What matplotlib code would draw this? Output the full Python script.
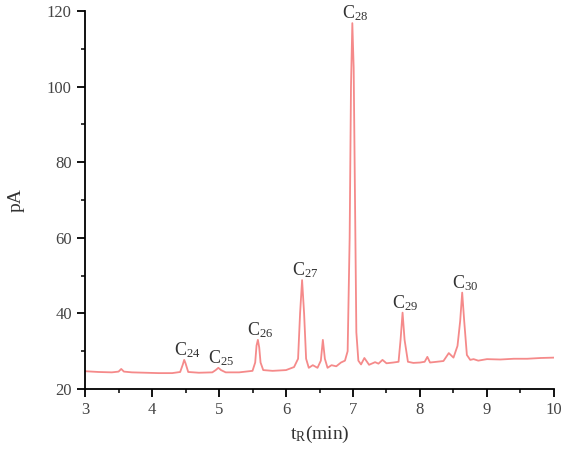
import numpy as np
import matplotlib
matplotlib.use("Agg")
from matplotlib import pyplot as plt
from matplotlib.ticker import MultipleLocator

# chromatogram: retention time (min) / signal (pA)
t_min = [3.00, 3.20, 3.40, 3.50, 3.54, 3.58, 3.70, 3.90, 4.10, 4.30,
         4.42, 4.46, 4.48, 4.50, 4.54, 4.70, 4.90, 4.95, 4.99, 5.03,
         5.10, 5.30, 5.50, 5.54, 5.56, 5.58, 5.60, 5.62, 5.66, 5.80,
         6.00, 6.12, 6.18, 6.21, 6.24, 6.27, 6.30, 6.34, 6.40, 6.47,
         6.52, 6.55, 6.58, 6.62, 6.68, 6.75, 6.82, 6.88, 6.92, 6.95,
         6.97, 6.99, 7.01, 7.03, 7.05, 7.08, 7.12, 7.17, 7.24, 7.33,
         7.38, 7.44, 7.50, 7.60, 7.68, 7.71, 7.74, 7.77, 7.82, 7.90,
         8.00, 8.07, 8.11, 8.15, 8.25, 8.35, 8.43, 8.50, 8.56, 8.60,
         8.63, 8.66, 8.70, 8.75, 8.80, 8.87, 9.00, 9.20, 9.40, 9.60,
         9.80, 10.00]
signal = [24.7, 24.5, 24.4, 24.6, 25.3, 24.6, 24.4, 24.3, 24.2, 24.2,
          24.5, 26.5, 27.7, 26.8, 24.5, 24.3, 24.4, 25.0, 25.6, 25.0,
          24.4, 24.4, 24.8, 27.0, 31.5, 33.0, 31.0, 27.0, 25.0, 24.8,
          25.0, 25.8, 28.0, 40.0, 48.8, 40.0, 28.0, 25.6, 26.3, 25.6,
          27.5, 33.0, 28.0, 25.6, 26.3, 26.0, 27.0, 27.5, 30.0, 60.0,
          100.0, 116.8, 105.0, 70.0, 35.0, 27.5, 26.5, 28.2, 26.4, 27.1,
          26.7, 27.7, 26.8, 27.0, 27.2, 33.0, 40.2, 33.0, 27.2, 26.9,
          27.0, 27.2, 28.5, 27.0, 27.2, 27.4, 29.5, 28.3, 31.4, 38.0,
          45.5, 38.0, 29.0, 27.7, 27.9, 27.5, 27.9, 27.8, 28.0, 28.0,
          28.2, 28.3]

# labelled alkane peaks
peak_names = ["24", "25", "26", "27", "28", "29", "30"]
peak_t = [4.48, 4.99, 5.58, 6.24, 6.99, 7.74, 8.63]
peak_h = [27.7, 25.6, 33.0, 48.8, 116.8, 40.2, 45.5]

plt.rcParams['font.family'] = ['Liberation Serif', 'DejaVu Serif']
plt.rcParams['mathtext.default'] = 'regular'

fig = plt.figure(figsize=(5.67, 4.51), dpi=100)
ax = fig.add_axes([0.150, 0.1375, 0.827, 0.838])

ax.plot(t_min, signal, color='#f58a8a', lw=1.3)

for name, x, y in zip(peak_names, peak_t, peak_h):
    ax.annotate('C$_{%s}$' % name, (x, y), xytext=(2, 0), textcoords='offset points',
                ha='center', va='bottom', fontsize=13, color='#333333')

ax.set_xlim(3, 10)
ax.set_ylim(20, 120)
ax.xaxis.set_major_locator(MultipleLocator(1))
ax.xaxis.set_minor_locator(MultipleLocator(0.5))
ax.yaxis.set_major_locator(MultipleLocator(20))
ax.yaxis.set_minor_locator(MultipleLocator(10))

for s in ['top', 'right']:
    ax.spines[s].set_visible(False)
for s in ['left', 'bottom']:
    ax.spines[s].set_linewidth(1.3)
ax.tick_params(which='major', direction='out', length=6, width=1.3,
               labelsize=12, labelcolor='#444444')
ax.tick_params(which='minor', direction='out', length=3, width=1.1)

ax.set_xlabel('t$_R$(min)', fontsize=14, color='#333333', labelpad=4)
ax.set_ylabel('pA', fontsize=14, color='#333333', labelpad=16)

fig.savefig('out.png', dpi=100)
